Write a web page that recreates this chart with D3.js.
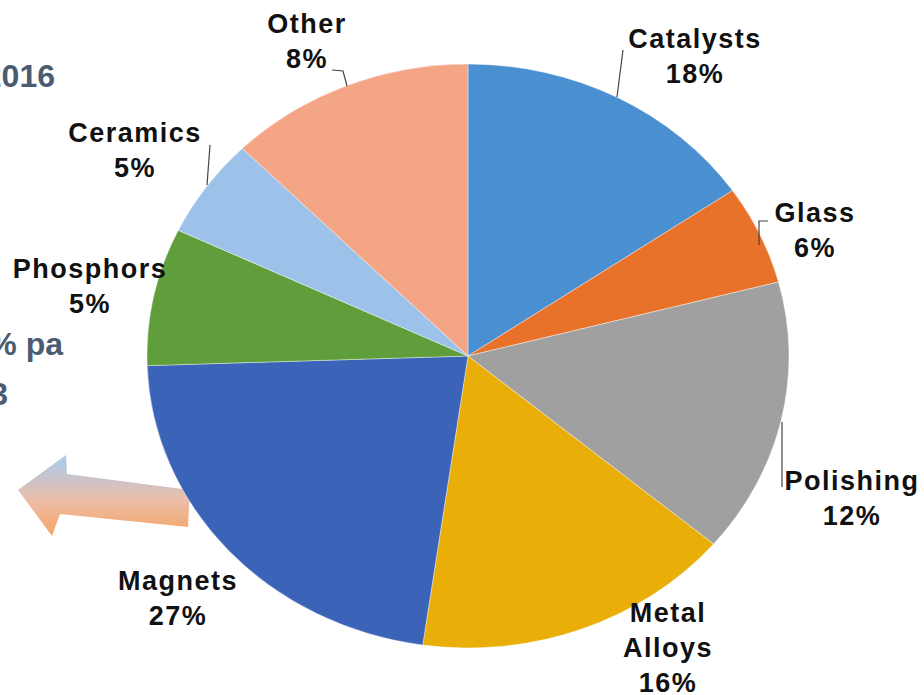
<!DOCTYPE html>
<html>
<head>
<meta charset="utf-8">
<script src="https://cdn.jsdelivr.net/npm/d3@7"></script>
<style>
  body { margin: 0; background: #fff; }
  svg { display: block; }
</style>
</head>
<body>
<div id="chart"></div>
<script>
const width = 924;
const height = 695;

// data
const categories = ["Catalysts", "Glass", "Polishing", "Metal Alloys", "Magnets", "Phosphors", "Ceramics", "Other"];
const sliceValues = [15.4, 5.5, 15.2, 16.1, 22.2, 7.6, 5.5, 12.4];   // as drawn
const labelPct = [18, 6, 12, 16, 27, 5, 5, 8];                      // as printed
const colors = ["#4a8fd0", "#e8722a", "#a0a0a0", "#e9ae08", "#3b63b7", "#5f9e3a", "#9dc2ea", "#f3a585"];

// cut-off slide text on the left
const sideTexts = [
    {text: "2016", x: 55, y: 87},
    {text: "5% pa", x: 63, y: 355},
    {text: "2023", x: 8, y: 405}
];

// layout
const cx = 468, cy = 356;
const rx = 321, ry = 292;
const lineH = 35;
const labelPos = [
    [695, 48], [815, 222], [852, 490], [668, 622],
    [178, 590], [90, 278], [135, 142], [307, 33]
];
const leaders = {
    "Catalysts": [[623, 50], [617, 97]],
    "Glass": [[768, 221], [759, 221], [759, 245]],
    "Polishing": [[782, 422], [782, 487]],
    "Ceramics": [[210, 145], [207, 185]],
    "Other": [[332, 70], [343, 71], [347, 86]]
};

const svg = d3.select("#chart").append("svg")
    .attr("width", width)
    .attr("height", height);

const defs = svg.append("defs");
const grad = defs.append("linearGradient")
    .attr("id", "arrowGrad")
    .attr("x1", 0).attr("y1", 0).attr("x2", 0).attr("y2", 1);
grad.append("stop").attr("offset", "0%").attr("stop-color", "#9cc4ee");
grad.append("stop").attr("offset", "55%").attr("stop-color", "#e9b7a0");
grad.append("stop").attr("offset", "100%").attr("stop-color", "#f59a52");

// side text
svg.selectAll("text.side")
    .data(sideTexts)
    .join("text")
    .attr("class", "side")
    .attr("x", d => d.x)
    .attr("y", d => d.y)
    .attr("text-anchor", "end")
    .attr("font-family", "Liberation Sans, Arial, sans-serif")
    .attr("font-weight", "bold")
    .attr("font-size", 32)
    .attr("fill", "#4b5b72")
    .text(d => d.text);

// arrow
svg.append("path")
    .attr("d", "M18,490 L66,455 L67,474 L190,490 L188,527 L60,514 L52,536 Z")
    .attr("fill", "url(#arrowGrad)")
    .attr("opacity", 0.9);

// pie
const pie = d3.pie().sort(null).value(d => d)(sliceValues);
const arc = d3.arc().innerRadius(0).outerRadius(ry);

const g = svg.append("g")
    .attr("transform", `translate(${cx},${cy}) scale(${rx / ry},1)`);

g.selectAll("path")
    .data(pie)
    .join("path")
    .attr("d", arc)
    .attr("fill", (d, i) => colors[i])
    .attr("stroke", "#ffffff")
    .attr("stroke-opacity", 0.5)
    .attr("stroke-width", 0.8)
    .attr("vector-effect", "non-scaling-stroke");

// leader lines
const line = d3.line();
svg.selectAll("path.leader")
    .data(Object.values(leaders))
    .join("path")
    .attr("class", "leader")
    .attr("d", line)
    .attr("fill", "none")
    .attr("stroke", "#444")
    .attr("stroke-width", 1.2);

// labels
const labels = svg.selectAll("text.label")
    .data(categories)
    .join("text")
    .attr("class", "label")
    .attr("text-anchor", "middle")
    .attr("font-family", "Liberation Sans, Arial, sans-serif")
    .attr("font-weight", "bold")
    .attr("font-size", 27)
    .attr("letter-spacing", 1.5)
    .attr("fill", "#111");

labels.each(function(d, i) {
    const lines = d.split(" ").concat([labelPct[i] + "%"]);
    d3.select(this).selectAll("tspan")
        .data(lines)
        .join("tspan")
        .attr("x", labelPos[i][0])
        .attr("y", (l, j) => labelPos[i][1] + j * lineH)
        .text(l => l);
});
</script>
</body>
</html>
